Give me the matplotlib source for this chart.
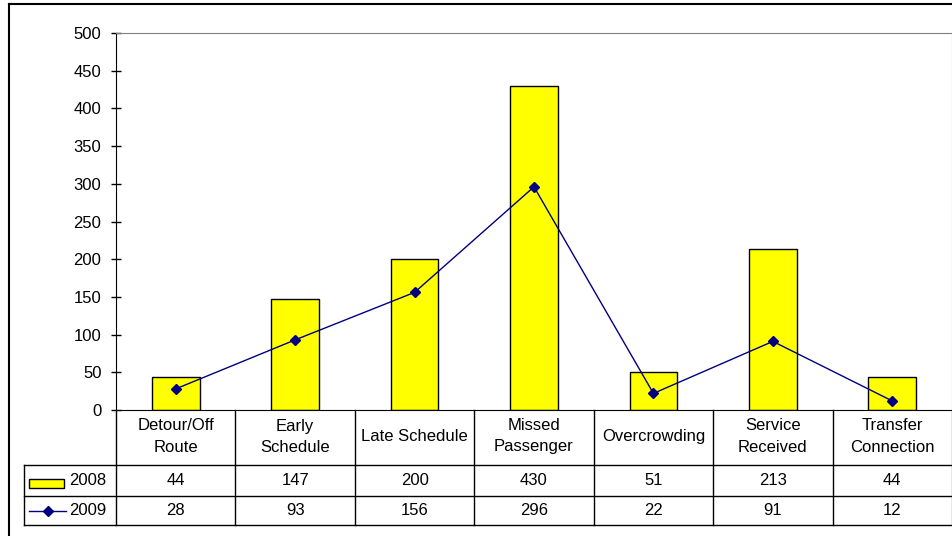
import matplotlib
matplotlib.use("Agg")
import matplotlib.pyplot as plt
from matplotlib.lines import Line2D
from matplotlib.patches import Rectangle
from matplotlib.transforms import blended_transform_factory

categories = ["Detour/Off\nRoute", "Early\nSchedule", "Late Schedule", "Missed\nPassenger",
              "Overcrowding", "Service\nReceived", "Transfer\nConnection"]
values_2008 = [44, 147, 200, 430, 51, 213, 44]
values_2009 = [28, 93, 156, 296, 22, 91, 12]
series_names = ["2008", "2009"]
y_ticks = list(range(0, 501, 50))

W, H = 953, 536
FS = 12
plt.rcParams["font.family"] = ["Liberation Sans", "DejaVu Sans"]

fig = plt.figure(figsize=(W / 100, H / 100), dpi=100)
ax = fig.add_axes([116 / W, 1 - 410 / H, (952 - 116) / W, (410 - 33) / H])

x = list(range(len(categories)))
ax.bar(x, values_2008, width=0.4, color="#ffff00", edgecolor="black", linewidth=1, zorder=2)
ax.plot(x, values_2009, color="#000080", linewidth=1, marker="D", markersize=5.5,
        markerfacecolor="#000080", markeredgecolor="#000080", zorder=3)

ax.set_xlim(-0.5, len(categories) - 0.5)
ax.set_ylim(0, 500)
ax.set_yticks(y_ticks)
ax.set_xticks([])
ax.tick_params(axis="y", direction="inout", length=7, width=1, labelsize=FS, pad=7, colors="black")
for s in ["top", "right"]:
    ax.spines[s].set_color("#808080")
for s in ["left", "bottom"]:
    ax.spines[s].set_color("black")

# data table under the axes
tr = blended_transform_factory(ax.transData, ax.transAxes)
ax_h = 410 - 33
def ypx(p):
    return -(p - 410) / ax_h

cat_w = (952 - 116) / len(categories)
left_x = -0.5 - (116 - 24) / cat_w
right_x = len(categories) - 0.5
y_hdr, y_r1, y_r2 = ypx(465), ypx(496), ypx(525)

def line(xs, ys, color="black"):
    ax.add_line(Line2D(xs, ys, transform=tr, color=color, linewidth=1, clip_on=False))

for i in range(len(categories) + 1):
    line([i - 0.5, i - 0.5], [0, y_r2], "#808080" if i == len(categories) else "black")
line([left_x, left_x], [y_hdr, y_r2])
for yy in (y_hdr, y_r1, y_r2):
    line([left_x, right_x], [yy, yy])

for i, c in enumerate(categories):
    ax.text(i, ypx(436.5), c, transform=tr, ha="center", va="center", fontsize=FS,
            linespacing=1.5)
    ax.text(i, (y_hdr + y_r1) / 2, str(values_2008[i]), transform=tr, ha="center", va="center",
            fontsize=FS)
    ax.text(i, (y_r1 + y_r2) / 2, str(values_2009[i]), transform=tr, ha="center", va="center",
            fontsize=FS)

# legend keys in the table
kx0 = left_x + (29 - 24) / cat_w
kx1 = left_x + (64 - 24) / cat_w
ax.add_patch(Rectangle((kx0, ypx(488)), kx1 - kx0, ypx(479) - ypx(488), transform=tr,
                       facecolor="#ffff00", edgecolor="black", linewidth=1, clip_on=False))
ax.add_line(Line2D([kx0, left_x + (66 - 24) / cat_w], [(y_r1 + y_r2) / 2] * 2, transform=tr,
                   color="#000080", linewidth=1, clip_on=False))
ax.add_line(Line2D([left_x + (48 - 24) / cat_w], [(y_r1 + y_r2) / 2], transform=tr,
                   marker="D", markersize=5.5, color="#000080", clip_on=False))
tx = left_x + (69 - 24) / cat_w
ax.text(tx, (y_hdr + y_r1) / 2, series_names[0], transform=tr, ha="left", va="center", fontsize=FS)
ax.text(tx, (y_r1 + y_r2) / 2, series_names[1], transform=tr, ha="left", va="center", fontsize=FS)

# outer chart border
fig.add_artist(Line2D([9 / W, 1], [1 - 4 / H, 1 - 4 / H], transform=fig.transFigure,
                      color="black", linewidth=1.5))
fig.add_artist(Line2D([9 / W, 9 / W], [1 - 4 / H, 0], transform=fig.transFigure,
                      color="black", linewidth=1.5))

fig.savefig("out.png", dpi=100, facecolor="white")
